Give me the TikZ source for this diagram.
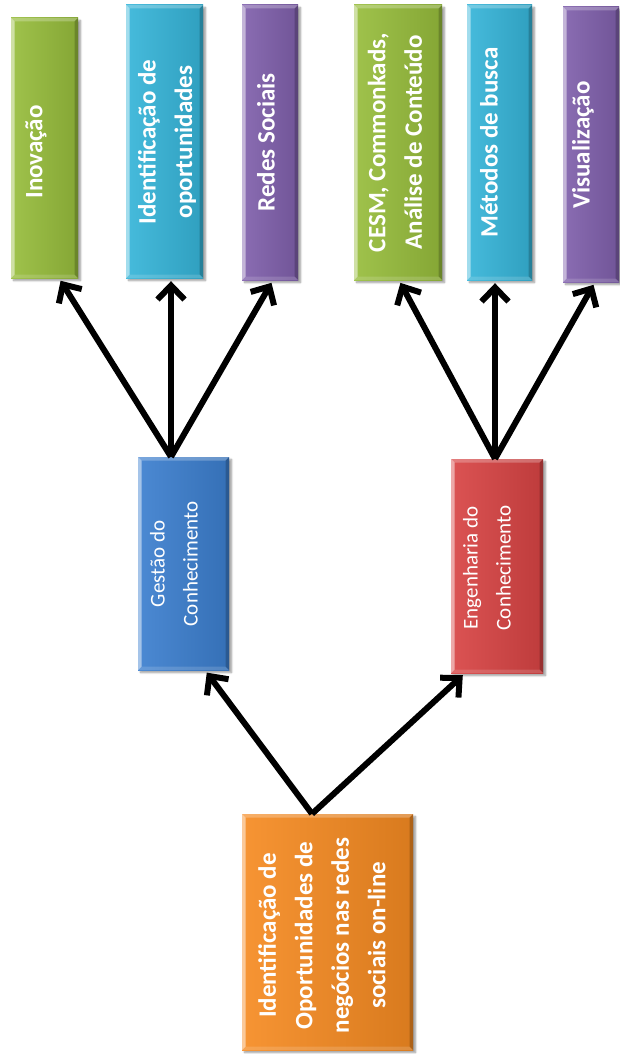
\documentclass[tikz,border=0pt]{standalone}
\usepackage{fontspec}
\setmainfont{Carlito}
\usetikzlibrary{arrows.meta,shadows.blur}

\definecolor{tgreen}{HTML}{97BD3C}
\definecolor{tcyan}{HTML}{36B5D9}
\definecolor{tpurple}{HTML}{8060AC}
\definecolor{tblue}{HTML}{3C7FCF}
\definecolor{tred}{HTML}{D84444}
\definecolor{torange}{HTML}{F68B22}

\tikzset{
  tile/.style={rectangle, inner sep=0pt, draw=none,
    left color=#1!92!white, right color=#1!88!black,
    blur shadow={shadow xshift=2.5pt, shadow yshift=-2.5pt, shadow blur steps=6},
    path picture={
      \fill[white,opacity=.5] (path picture bounding box.north west)
        -- (path picture bounding box.south west) -- ++(3.5pt,3.5pt)
        -- ([shift={(3.5pt,-3.5pt)}]path picture bounding box.north west) -- cycle;
      \fill[white,opacity=.25] (path picture bounding box.north west)
        -- (path picture bounding box.north east) -- ++(-3.5pt,-3.5pt)
        -- ([shift={(3.5pt,-3.5pt)}]path picture bounding box.north west) -- cycle;
      \fill[black,opacity=.2] (path picture bounding box.north east)
        -- (path picture bounding box.south east) -- ++(-3.5pt,3.5pt)
        -- ([shift={(-3.5pt,-3.5pt)}]path picture bounding box.north east) -- cycle;
      \fill[white,opacity=.15] (path picture bounding box.south west)
        -- (path picture bounding box.south east) -- ++(-3.5pt,3.5pt)
        -- ([shift={(3.5pt,3.5pt)}]path picture bounding box.south west) -- cycle;
    }},
  bigtext/.style={text=white, inner sep=0pt, rotate=90, align=center,
    font=\fontsize{25}{36.5}\selectfont\bfseries},
  midtext/.style={text=white, inner sep=0pt, rotate=90, align=center,
    font=\fontsize{21}{33}\selectfont},
  link/.style={line width=6pt, -{Straight Barb[length=14pt,width=27pt]},
    shorten >=3pt}
}

\begin{document}
\begin{tikzpicture}[x=1pt,y=-1pt]
\useasboundingbox (0,0) rectangle (620,1054);

% top row of topics
\node[tile=tgreen,  minimum width=67, minimum height=260] (inov)  at (44.5,148) {};
\node[tile=tcyan,   minimum width=77, minimum height=273] (ident) at (164.5,141.5) {};
\node[tile=tpurple, minimum width=56, minimum height=275] (redes) at (270,142.5) {};
\node[tile=tgreen,  minimum width=88, minimum height=275] (cesm)  at (398,142.5) {};
\node[tile=tcyan,   minimum width=65, minimum height=275] (metod) at (499.5,142.5) {};
\node[tile=tpurple, minimum width=56, minimum height=275] (visual) at (591,144.5) {};

% middle level
\node[tile=tblue, minimum width=91, minimum height=213] (gestao) at (183.5,563.5) {};
\node[tile=tred,  minimum width=92, minimum height=214] (eng)    at (497,566) {};

% root
\node[tile=torange, minimum width=171, minimum height=236] (base) at (327.5,932) {};

% labels
\node[bigtext] (inov-t)   at (36,152)    {Inovação};
\node[bigtext] (ident-t)  at (167,142)   {Identificação de\\oportunidades};
\node[bigtext] (redes-t)  at (266,142.5) {Redes Sociais};
\node[bigtext] (cesm-t)   at (395,142.5) {CESM, Commonkads,\\Análise de Conteúdo};
\node[bigtext] (metod-t)  at (489,142.5) {Métodos de busca};
\node[bigtext] (visual-t) at (583,145)   {Visualização};
\node[midtext] (gestao-t) at (174,564)   {Gestão do\\Conhecimento};
\node[midtext] (eng-t)    at (487,568)   {Engenharia do\\Conhecimento};
\node[bigtext] (base-t)   at (322,935.5) {Identificação de\\Oportunidades de\\negócios nas redes\\sociais on-line};

% connectors
\draw[link] ([xshift=-12.5pt]gestao.north) -- ([xshift=14.5pt]inov.south);
\draw[link] ([xshift=-12.5pt]gestao.north) -- ([xshift=6.5pt]ident.south);
\draw[link] ([xshift=-12.5pt]gestao.north) -- ([xshift=3pt]redes.south);
\draw[link] ([xshift=-2pt]eng.north) -- ([xshift=1pt]cesm.south);
\draw[link] ([xshift=-2pt]eng.north) -- ([xshift=-4.5pt]metod.south);
\draw[link] ([xshift=-2pt]eng.north) -- ([xshift=4pt]visual.south);
\draw[link] ([xshift=-15.5pt]base.north) -- ([xshift=21.5pt]gestao.south);
\draw[link] ([xshift=-15.5pt]base.north) -- ([xshift=-32pt]eng.south);
\end{tikzpicture}
\end{document}
